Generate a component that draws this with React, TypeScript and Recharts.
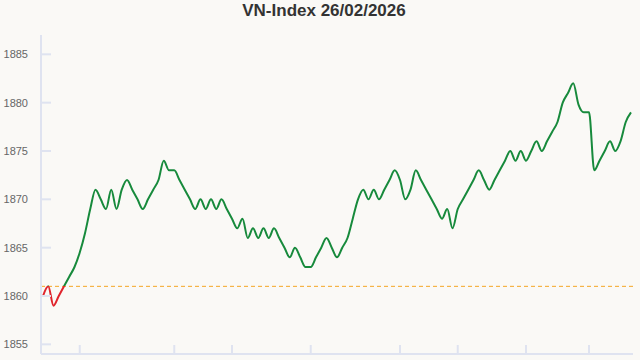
import { LineChart, Line, XAxis, YAxis, ReferenceLine } from "recharts"

// Giá VN-Index theo từng mốc trong phiên
const prices = [
  1860, 1861, 1859, 1860, 1861, 1862, 1863, 1864.5, 1866.5, 1869,
  1871, 1870, 1869, 1871, 1869, 1871, 1872, 1871, 1870, 1869,
  1870, 1871, 1872, 1874, 1873, 1873, 1872, 1871, 1870, 1869,
  1870, 1869, 1870, 1869, 1870, 1869, 1868, 1867, 1868, 1866,
  1867, 1866, 1867, 1866, 1867, 1866, 1865, 1864, 1865, 1864,
  1863, 1863, 1864, 1865, 1866, 1865, 1864, 1865, 1866, 1868,
  1870, 1871, 1870, 1871, 1870, 1871, 1872, 1873, 1872, 1870,
  1871, 1873, 1872, 1871, 1870, 1869, 1868, 1869, 1867, 1869,
  1870, 1871, 1872, 1873, 1872, 1871, 1872, 1873, 1874, 1875,
  1874, 1875, 1874, 1875, 1876, 1875, 1876, 1877, 1878, 1880,
  1881, 1882, 1879.8, 1879, 1879, 1873, 1874, 1875, 1876, 1875,
  1876, 1878, 1879,
]

const refPrice = 1861
const yTicks = [1855, 1860, 1865, 1870, 1875, 1880, 1885]
const timeTicks = [7, 25, 36, 51, 68, 79, 92, 104]

const data = prices.map((value, i) => ({ i, value }))

// nhãn trục thời gian không hiển thị, chỉ giữ vạch
const NoLabel = () => <g />

export default function App() {
  const max = Math.max(...prices)
  const min = Math.min(...prices)
  // điểm chuyển màu xanh/đỏ theo giá tham chiếu
  const split = (max - refPrice) / (max - min)

  return (
    <div
      style={{
        position: "absolute",
        left: 0,
        top: 0,
        width: 640,
        height: 360,
        background: "#faf9f6",
        fontFamily: "'Liberation Sans', Arial, sans-serif",
      }}
    >
      <div
        style={{
          position: "absolute",
          top: 1,
          left: 4,
          width: 640,
          textAlign: "center",
          fontSize: 17,
          lineHeight: "20px",
          fontWeight: "bold",
          color: "#333",
        }}
      >
        VN-Index 26/02/2026
      </div>
      <LineChart width={640} height={360} data={data} margin={{ top: 35, right: 7, bottom: 0, left: 0 }}>
        <defs>
          <linearGradient id="priceColor" x1="0" y1="0" x2="0" y2="1">
            <stop offset={split} stopColor="#178a3c" />
            <stop offset={split} stopColor="#e0242c" />
          </linearGradient>
        </defs>
        <XAxis
          type="number"
          dataKey="i"
          domain={[0, prices.length - 1]}
          ticks={timeTicks}
          tick={NoLabel}
          tickSize={-9}
          height={6}
          padding={{ left: 2, right: 2 }}
          axisLine={{ stroke: "#dfe3f0", strokeWidth: 2 }}
          tickLine={{ stroke: "#dfe3f0", strokeWidth: 2 }}
        />
        <YAxis
          domain={[1854, 1887]}
          ticks={yTicks}
          width={41}
          tickSize={-10}
          tickMargin={23}
          axisLine={{ stroke: "#dfe3f0", strokeWidth: 2 }}
          tickLine={{ stroke: "#dfe3f0", strokeWidth: 2 }}
          tick={{ fontSize: 11, fill: "#666" }}
        />
        <ReferenceLine y={refPrice} stroke="#f5a623" strokeDasharray="4 3" />
        <Line
          type="monotone"
          dataKey="value"
          stroke="url(#priceColor)"
          strokeWidth={2}
          dot={false}
          isAnimationActive={false}
        />
      </LineChart>
    </div>
  )
}
